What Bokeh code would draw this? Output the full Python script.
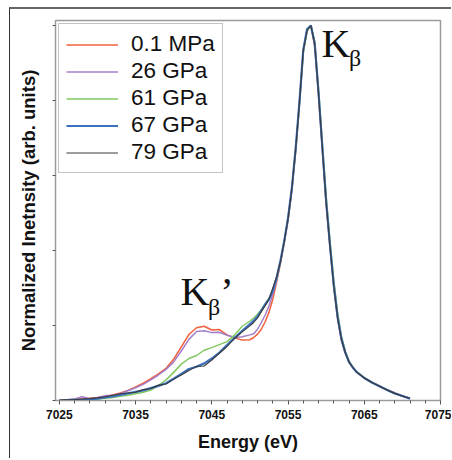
from bokeh.plotting import figure
from bokeh.embed import file_html
from bokeh.resources import INLINE
from bokeh.models import Range1d, FixedTicker, CustomJSTickFormatter, Label

# ---------------- data ----------------
energy = [7025, 7026, 7027, 7028, 7029, 7030, 7031, 7032, 7033, 7034, 7035, 7036, 7037,
          7038, 7039, 7040, 7041, 7042, 7043, 7044, 7045, 7046, 7047, 7048, 7049, 7050,
          7050.5, 7051, 7051.5, 7052, 7052.5, 7053, 7053.5, 7054, 7054.5, 7055, 7055.5,
          7056, 7056.5, 7057, 7057.5, 7058, 7058.5, 7059, 7059.5, 7060, 7060.5, 7061,
          7061.5, 7062, 7062.5, 7063, 7063.5, 7064,
          7065, 7066, 7067, 7068, 7069, 7070, 7071]

p_01MPa = [0.000, 0.002, 0.003, 0.004, 0.006, 0.008, 0.011, 0.015, 0.020, 0.027, 0.036, 0.046, 0.058,
           0.071, 0.086, 0.110, 0.143, 0.176, 0.194, 0.198, 0.188, 0.189, 0.175, 0.167, 0.161, 0.162,
           0.168, 0.177, 0.190, 0.210, 0.235, 0.270, 0.315, 0.365, 0.420, 0.480, 0.560,
           0.665, 0.790, 0.930, 0.985, 1.000, 0.945, 0.815, 0.670, 0.525, 0.410, 0.305,
           0.220, 0.163, 0.128, 0.103, 0.088, 0.076,
           0.061, 0.049, 0.039, 0.029, 0.020, 0.012, 0.006]

p_26GPa = [0.001, 0.002, 0.004, 0.010, 0.005, 0.008, 0.013, 0.013, 0.018, 0.026, 0.034, 0.043, 0.055,
           0.068, 0.083, 0.103, 0.132, 0.163, 0.184, 0.186, 0.181, 0.182, 0.174, 0.168, 0.170, 0.175,
           0.178, 0.190, 0.208, 0.228, 0.252, 0.283, 0.320, 0.368, 0.423, 0.485, 0.565,
           0.670, 0.795, 0.935, 0.990, 1.000, 0.950, 0.818, 0.672, 0.527, 0.410, 0.303,
           0.218, 0.160, 0.126, 0.101, 0.087, 0.075,
           0.060, 0.048, 0.038, 0.028, 0.019, 0.012, 0.005]

p_61GPa = [-0.002, 0.000, 0.001, 0.001, 0.002, 0.004, 0.006, 0.008, 0.011, 0.014, 0.018, 0.022, 0.028,
           0.040, 0.055, 0.075, 0.097, 0.112, 0.120, 0.134, 0.141, 0.149, 0.157, 0.175, 0.198, 0.212,
           0.220, 0.230, 0.243, 0.258, 0.272, 0.292, 0.325, 0.370, 0.423, 0.483, 0.562,
           0.665, 0.790, 0.928, 0.985, 1.000, 0.958, 0.830, 0.688, 0.545, 0.428, 0.322,
           0.235, 0.172, 0.132, 0.105, 0.089, 0.077,
           0.061, 0.049, 0.038, 0.028, 0.019, 0.011, 0.005]

p_67GPa = [-0.002, 0.001, 0.002, 0.002, 0.003, 0.005, 0.008, 0.011, 0.015, 0.019, 0.023, 0.027, 0.033,
           0.039, 0.046, 0.058, 0.071, 0.084, 0.090, 0.099, 0.112, 0.128, 0.148, 0.167, 0.186, 0.204,
           0.213, 0.224, 0.240, 0.256, 0.270, 0.292, 0.327, 0.372, 0.425, 0.486, 0.566,
           0.672, 0.797, 0.935, 0.990, 1.000, 0.952, 0.822, 0.676, 0.532, 0.415, 0.308,
           0.224, 0.165, 0.129, 0.103, 0.088, 0.076,
           0.060, 0.048, 0.038, 0.028, 0.019, 0.012, 0.005]

p_79GPa = [0.001, 0.002, 0.002, 0.004, 0.005, 0.007, 0.010, 0.014, 0.018, 0.020, 0.022, 0.029, 0.032,
           0.041, 0.044, 0.057, 0.068, 0.080, 0.091, 0.092, 0.108, 0.126, 0.144, 0.166, 0.183, 0.199,
           0.208, 0.220, 0.237, 0.253, 0.270, 0.300, 0.330, 0.370, 0.424, 0.485, 0.565,
           0.670, 0.795, 0.933, 0.988, 1.000, 0.950, 0.820, 0.674, 0.530, 0.413, 0.306,
           0.222, 0.164, 0.128, 0.103, 0.088, 0.076,
           0.060, 0.048, 0.038, 0.028, 0.019, 0.012, 0.006]

series_names = ["0.1 MPa", "26 GPa", "61 GPa", "67 GPa", "79 GPa"]
series_values = [p_01MPa, p_26GPa, p_61GPa, p_67GPa, p_79GPa]
series_colors = ["#f2603c", "#a47ec8", "#82c862", "#3b70bd", "#3a3a3a"]
series_widths = [1.5, 1.5, 1.5, 2.2, 1.1]

x_ticks = [7025, 7035, 7045, 7055, 7065, 7075]
x_minor = [7027, 7029, 7031, 7033, 7037, 7039, 7041, 7043, 7047, 7049, 7051, 7053,
           7057, 7059, 7061, 7063, 7067, 7069, 7071, 7073]
y_ticks = [0, 0.2, 0.4, 0.6, 0.8, 1.0]

# ---------------- figure ----------------
p = figure(width=442, height=451, output_backend="svg", toolbar_location=None,
           x_range=Range1d(7024.5, 7075), y_range=Range1d(0, 1.0133),
           min_border_left=45, min_border_right=12, min_border_top=11, min_border_bottom=60,
           styles={"margin-left": "9px", "margin-top": "7px",
                   "border-left": "1px solid #333333", "border-top": "2px solid #666666"})

p.xgrid.visible = False
p.ygrid.visible = False
p.outline_line_color = "#9a9a9a"
p.outline_line_width = 1.5
p.background_fill_color = "white"
p.border_fill_color = "white"

for name, vals, col, w in zip(series_names, series_values, series_colors, series_widths):
    p.line(energy, vals, line_color=col, line_width=w, legend_label=name)

# axes
xa = p.xaxis[0]
xa.ticker = FixedTicker(ticks=x_ticks, minor_ticks=x_minor)
xa.axis_line_color = "#9a9a9a"
xa.major_tick_line_color = "#555555"
xa.minor_tick_line_color = "#555555"
xa.major_tick_in = 0
xa.major_tick_out = 4
xa.minor_tick_in = 0
xa.minor_tick_out = 3
xa.major_label_text_font = "Liberation Sans"
xa.major_label_text_font_style = "bold"
xa.major_label_text_font_size = "12px"
xa.major_label_text_color = "#111111"
xa.major_label_standoff = 5
xa.axis_label = "Energy (eV)"
xa.axis_label_text_font = "Liberation Sans"
xa.axis_label_text_font_style = "bold"
xa.axis_label_text_font_size = "18px"
xa.axis_label_text_color = "#111111"
xa.axis_label_standoff = 10

ya = p.yaxis[0]
ya.ticker = FixedTicker(ticks=y_ticks, minor_ticks=[])
ya.formatter = CustomJSTickFormatter(code="return ''")
ya.axis_line_color = "#9a9a9a"
ya.major_tick_line_color = "#555555"
ya.major_tick_in = 0
ya.major_tick_out = 3
ya.minor_tick_out = 0
ya.major_label_standoff = 0
ya.axis_label = "Normalized Inetnsity (arb. units)"
ya.axis_label_text_font = "Liberation Sans"
ya.axis_label_text_font_style = "bold"
ya.axis_label_text_font_size = "18.5px"
ya.axis_label_text_color = "#111111"
ya.axis_label_standoff = 14

# legend
lg = p.legend[0]
lg.location = "top_left"
lg.margin = 3
lg.padding = 7
lg.spacing = 1
lg.glyph_width = 52
lg.glyph_height = 21
lg.label_height = 21
lg.label_standoff = 13
lg.label_text_font = "Liberation Sans"
lg.label_text_font_size = "22.5px"
lg.label_text_color = "#111111"
lg.border_line_color = "#8a8a8a"
lg.border_line_width = 1.5
lg.background_fill_alpha = 1.0

# annotations
serif = "Liberation Serif"
big = "40px"
small = "24px"
kb_x, kb_y = 7059.4, 0.892
p.add_layout(Label(x=kb_x, y=kb_y, text="K", text_font=serif, text_font_size=big,
                   text_color="#111111"))
p.add_layout(Label(x=kb_x + 3.6, y=kb_y - 0.014, text="β", text_font=serif,
                   text_font_size=small, text_color="#111111"))

kp_x, kp_y = 7040.9, 0.231
p.add_layout(Label(x=kp_x, y=kp_y, text="K", text_font=serif, text_font_size=big,
                   text_color="#111111"))
p.add_layout(Label(x=kp_x + 3.6, y=kp_y - 0.016, text="β", text_font=serif,
                   text_font_size=small, text_color="#111111"))
p.add_layout(Label(x=kp_x + 5.2, y=kp_y, text="’", text_font=serif,
                   text_font_size=big, text_color="#111111"))

open("out.html", "w").write(file_html(p, INLINE))
